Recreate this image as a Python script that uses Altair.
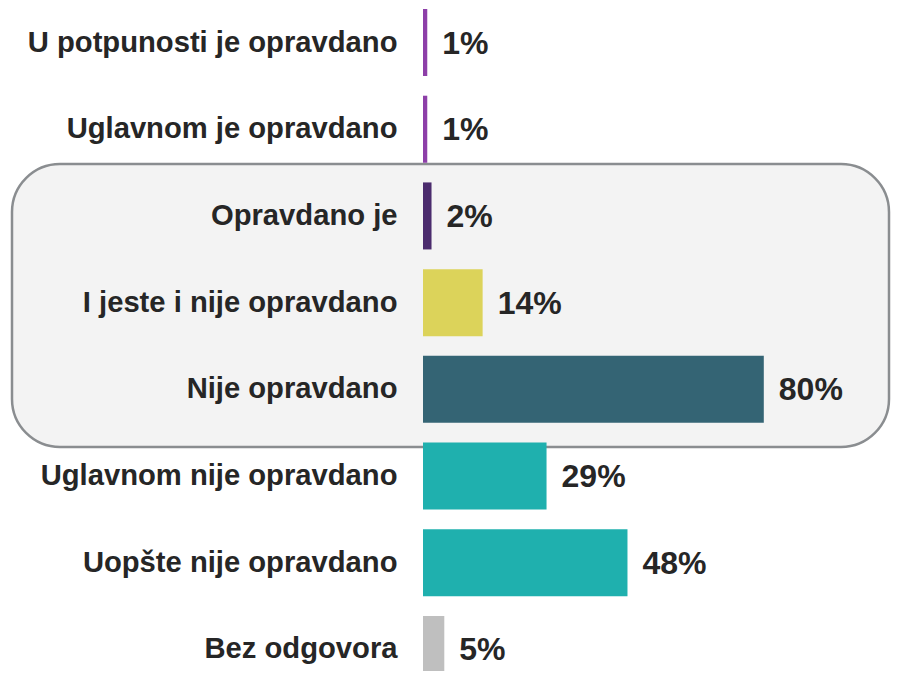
import altair as alt
import pandas as pd

categories = [
    "U potpunosti je opravdano",
    "Uglavnom je opravdano",
    "Opravdano je",
    "I jeste i nije opravdano",
    "Nije opravdano",
    "Uglavnom nije opravdano",
    "Uopšte nije opravdano",
    "Bez odgovora",
]
values = [1, 1, 2, 14, 80, 29, 48, 5]
labels = ["1%", "1%", "2%", "14%", "80%", "29%", "48%", "5%"]
colors = ["#8d3fa8", "#8d3fa8", "#4b2b6d", "#dcd35a", "#346474", "#1fb0ae", "#1fb0ae", "#bfbfbf"]

df = pd.DataFrame({"cat": categories, "val": values, "lab": labels})

FONT = "Liberation Sans"

y_enc = alt.Y(
    "cat:N",
    sort=categories,
    scale=alt.Scale(paddingInner=0.227, paddingOuter=0, range=[0, 674]),
    axis=alt.Axis(
        title=None, domain=False, ticks=False, labelFontSize=29.2, labelFontWeight="bold",
        labelFont=FONT, labelColor="#262626", labelPadding=26, labelLimit=0, zindex=1,
    ),
)
x_enc = alt.X("val:Q", scale=alt.Scale(domain=[0, 100], nice=False), axis=None)

box = alt.Chart(pd.DataFrame({"a": [0]})).mark_rect(
    cornerRadius=48, fill="#f3f3f3", stroke="#8a8d90", strokeWidth=2.5
).encode(
    x=alt.value(-411), x2=alt.value(466), y=alt.value(155), y2=alt.value(438)
)

bars = alt.Chart(df).mark_bar().encode(
    y=y_enc,
    x=x_enc,
    color=alt.Color("cat:N", scale=alt.Scale(domain=categories, range=colors), legend=None),
)

text = alt.Chart(df).mark_text(
    align="left", baseline="middle", dx=15, dy=1, fontSize=32, fontWeight="bold",
    font=FONT, color="#262626",
).encode(y=y_enc, x=x_enc, text="lab:N")

chart = alt.layer(box, bars, text).properties(
    width=426, height=662,
    autosize=alt.AutoSizeParams(type="none"),
    padding={"left": 415, "top": 1, "right": 42, "bottom": 0},
    background="white",
).configure_view(strokeWidth=0)

chart.save("out.html", embed_options={"renderer": "svg", "actions": False})
